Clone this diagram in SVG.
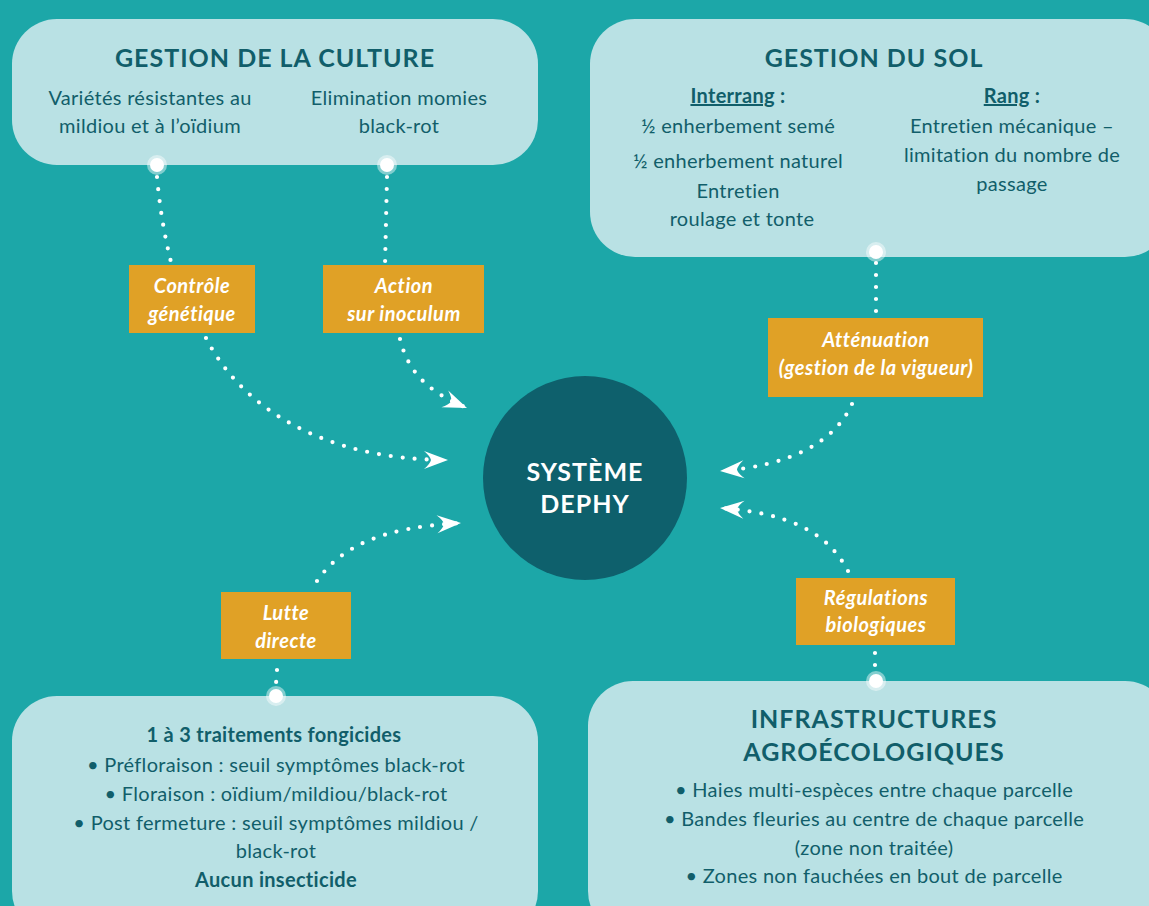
<svg xmlns="http://www.w3.org/2000/svg" width="1149" height="906" viewBox="0 0 1149 906">
<defs>
<style>
.box{fill:#b9e1e4}
.lbl{fill:#e0a126}
.t{font-family:Lato,"Open Sans","Liberation Sans",sans-serif;fill:#115e6a;font-size:20px;text-anchor:middle;letter-spacing:0.3px}
.h{font-family:Lato,"Open Sans","Liberation Sans",sans-serif;fill:#115e6a;font-size:25px;font-weight:700;text-anchor:middle;letter-spacing:1px}
.b{font-weight:700}
.li{font-family:Lato,"Open Sans","Liberation Sans",sans-serif;fill:#ffffff;font-size:20px;font-style:italic;font-weight:700;text-anchor:middle;letter-spacing:0.5px}
.ct{font-family:Lato,"Open Sans","Liberation Sans",sans-serif;fill:#ffffff;font-size:25px;font-weight:700;text-anchor:middle;letter-spacing:1px}
.dot{fill:none;stroke:#ffffff;stroke-width:4.2;stroke-linecap:round;stroke-dasharray:0 12}
.halo{fill:#ffffff;fill-opacity:0.45}
.pin{fill:#ffffff}
</style>
<marker id="arr" viewBox="-25 -11 27 22" refX="0" refY="0" markerWidth="27" markerHeight="22" markerUnits="userSpaceOnUse" orient="auto">
<path d="M0,0 L-24,-9 Q-18,-4 -17,0 Q-18,4 -24,9 Z" fill="#ffffff"/>
</marker>
</defs>
<rect x="0" y="0" width="1149" height="906" fill="#1ca7a8"/>

<g id="center">
<circle cx="585" cy="478" r="102" fill="#0e606c"/>
<text class="ct" x="585" y="481">SYSTÈME</text>
<text class="ct" x="585" y="513">DEPHY</text>
</g>

<g id="gestion-culture">
<rect class="box" x="12" y="19" width="526" height="146" rx="45"/>
<text class="h" x="275" y="67">GESTION DE LA CULTURE</text>
<text class="t" x="150" y="105">Variétés résistantes au</text>
<text class="t" x="150" y="133">mildiou et à l’oïdium</text>
<text class="t" x="399" y="105">Elimination momies</text>
<text class="t" x="399" y="133">black-rot</text>
</g>

<g id="gestion-sol">
<rect class="box" x="590" y="19" width="580" height="238" rx="45"/>
<text class="h" x="874" y="67">GESTION DU SOL</text>
<text class="t b" x="738" y="103"><tspan style="text-decoration:underline">Interrang</tspan> :</text>
<text class="t" x="738" y="133">½ enherbement semé</text>
<text class="t" x="738" y="168">½ enherbement naturel</text>
<text class="t" x="738" y="198">Entretien</text>
<text class="t" x="742" y="226">roulage et tonte</text>
<text class="t b" x="1012" y="103"><tspan style="text-decoration:underline">Rang</tspan> :</text>
<text class="t" x="1012" y="133">Entretien mécanique –</text>
<text class="t" x="1012" y="162">limitation du nombre de</text>
<text class="t" x="1012" y="191">passage</text>
</g>

<g id="lutte-box">
<rect class="box" x="12" y="696" width="526" height="240" rx="45"/>
<text class="t b" x="274" y="742">1 à 3 traitements fongicides</text>
<text class="t" x="276" y="772">• Préfloraison : seuil symptômes black-rot</text>
<text class="t" x="276" y="801">• Floraison : oïdium/mildiou/black-rot</text>
<text class="t" x="276" y="830">• Post fermeture : seuil symptômes mildiou /</text>
<text class="t" x="276" y="858">black-rot</text>
<text class="t b" x="276" y="887">Aucun insecticide</text>
</g>

<g id="infrastructures">
<rect class="box" x="588" y="681" width="582" height="255" rx="45"/>
<text class="h" x="874" y="728">INFRASTRUCTURES</text>
<text class="h" x="874" y="761">AGROÉCOLOGIQUES</text>
<text class="t" x="874" y="797">• Haies multi-espèces entre chaque parcelle</text>
<text class="t" x="874" y="826">• Bandes fleuries au centre de chaque parcelle</text>
<text class="t" x="874" y="855">(zone non traitée)</text>
<text class="t" x="874" y="883">• Zones non fauchées en bout de parcelle</text>
</g>

<g id="connectors">
<path class="dot" d="M157,177 Q161,222 171,262"/>
<path class="dot" d="M387,177 L385,266"/>
<path class="dot" d="M876,263 L876,314"/>
<path class="dot" d="M277,670 L276,684"/>
<path class="dot" d="M875,653 L875,667"/>
<path class="dot" d="M206,338 C240,405 320,460 448,460" marker-end="url(#arr)"/>
<path class="dot" d="M400,339 C408,372 428,392 467,408" marker-end="url(#arr)"/>
<path class="dot" d="M852,404 C835,442 790,466 720,471" marker-end="url(#arr)"/>
<path class="dot" d="M848,571 C828,533 790,513 720,508" marker-end="url(#arr)"/>
<path class="dot" d="M317,581 C342,545 385,527 461,523" marker-end="url(#arr)"/>
</g>

<g id="pins">
<circle class="halo" cx="157" cy="165" r="10"/><circle class="pin" cx="157" cy="165" r="7"/>
<circle class="halo" cx="387" cy="165" r="10"/><circle class="pin" cx="387" cy="165" r="7"/>
<circle class="halo" cx="876" cy="252" r="10"/><circle class="pin" cx="876" cy="252" r="7"/>
<circle class="halo" cx="276" cy="696" r="10"/><circle class="pin" cx="276" cy="696" r="7"/>
<circle class="halo" cx="876" cy="681" r="10"/><circle class="pin" cx="876" cy="681" r="7"/>
</g>

<g id="label-controle">
<rect class="lbl" x="129" y="265" width="126" height="68"/>
<text class="li" x="192" y="293">Contrôle</text>
<text class="li" x="192" y="321">génétique</text>
</g>
<g id="label-action">
<rect class="lbl" x="323" y="265" width="161" height="68"/>
<text class="li" x="404" y="293">Action</text>
<text class="li" x="404" y="321">sur inoculum</text>
</g>
<g id="label-attenuation">
<rect class="lbl" x="768" y="318" width="215" height="79"/>
<text class="li" x="876" y="347">Atténuation</text>
<text class="li" x="876" y="375">(gestion de la vigueur)</text>
</g>
<g id="label-regulations">
<rect class="lbl" x="796" y="578" width="159" height="67"/>
<text class="li" x="876" y="605">Régulations</text>
<text class="li" x="876" y="632">biologiques</text>
</g>
<g id="label-lutte">
<rect class="lbl" x="221" y="592" width="130" height="67"/>
<text class="li" x="286" y="620">Lutte</text>
<text class="li" x="286" y="648">directe</text>
</g>
</svg>
